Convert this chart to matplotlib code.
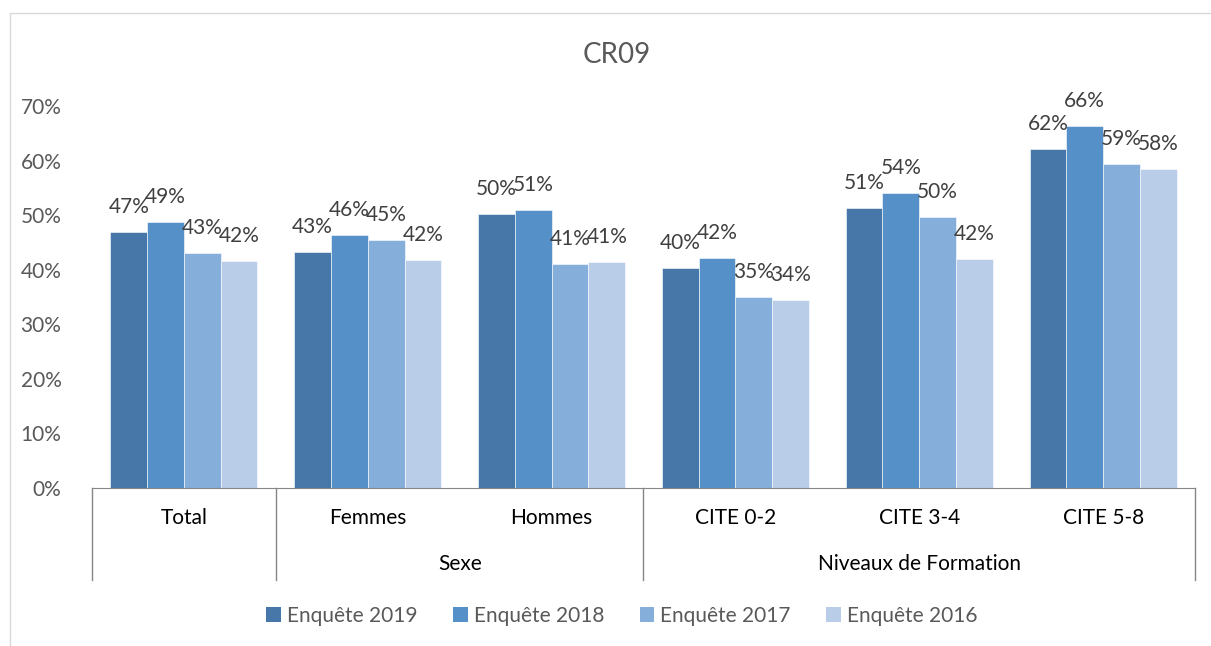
import matplotlib
matplotlib.use('Agg')
import matplotlib.pyplot as plt
from matplotlib.patches import Patch, Rectangle
import matplotlib.transforms as mtransforms
import numpy as np

plt.rcParams['font.family'] = ['Lato', 'DejaVu Sans']

# --- Données ---
categories = ['Total', 'Femmes', 'Hommes', 'CITE 0-2', 'CITE 3-4', 'CITE 5-8']
groups = ['', 'Sexe', 'Niveaux de Formation']
group_spans = [(0, 0), (1, 2), (3, 5)]
series = ['Enquête 2019', 'Enquête 2018', 'Enquête 2017', 'Enquête 2016']
v2019 = [0.469, 0.432, 0.502, 0.404, 0.514, 0.621]
v2018 = [0.488, 0.464, 0.509, 0.421, 0.540, 0.663]
v2017 = [0.430, 0.454, 0.410, 0.350, 0.496, 0.594]
v2016 = [0.416, 0.418, 0.414, 0.344, 0.420, 0.584]
colors = ['#4677A8', '#5591C8', '#86AEDB', '#B9CDE8']

values = [v2019, v2018, v2017, v2016]

fig = plt.figure(figsize=(12.11, 6.46), dpi=100)
ax = fig.add_axes([92/1211, 1-488/646, (1195-92)/1211, (488-106)/646])

# bordure du graphique
fig.patches.append(Rectangle((10/1211, -0.01), 1.02, 1-13/646+0.01, transform=fig.transFigure,
                             fill=False, edgecolor='#D9D9D9', lw=1))

x = np.arange(len(categories))
w = 0.2
for i, (vals, col, name) in enumerate(zip(values, colors, series)):
    pos = x + (i - 1.5) * w
    bars = ax.bar(pos, vals, width=w, color=col, edgecolor='white', linewidth=0.4, label=name)
    for b, v in zip(bars, vals):
        ax.annotate(f'{v*100:.0f}%', (b.get_x() + b.get_width()/2, v),
                    xytext=(0, 19), textcoords='offset pixels',
                    ha='center', va='baseline', fontsize=15, color='#404040')

ax.set_xlim(-0.5, len(categories) - 0.5)
ax.set_ylim(0, 0.7)
ax.set_yticks(np.arange(0, 0.71, 0.1))
ax.set_yticklabels([f'{t*100:.0f}%' for t in np.arange(0, 0.71, 0.1)])
ax.tick_params(axis='y', length=0, pad=22, labelsize=15, labelcolor='#595959')
ax.set_xticks([])
for s in ['top', 'right', 'left']:
    ax.spines[s].set_visible(False)
ax.spines['bottom'].set_color('#868686')

fig.text(617/1211, 1-55/646, 'CR09', fontsize=20, color='#595959', ha='center', va='center')

# axe des catégories à deux niveaux
trans = mtransforms.blended_transform_factory(ax.transData, ax.transAxes)
for i, c in enumerate(categories):
    ax.text(i, -30/382, c, transform=trans, ha='center', va='center', fontsize=15, color='black')
for g, (a, b) in zip(groups, group_spans):
    if g:
        ax.text((a + b) / 2, -76/382, g, transform=trans, ha='center', va='center',
                fontsize=15, color='black')
for d in [-0.5, 0.5, 2.5, 5.5]:
    ax.plot([d, d], [0, -92/382], transform=trans, color='#868686', lw=1, clip_on=False)

handles = [Patch(facecolor=c, label=s) for c, s in zip(colors, series)]
fig.legend(handles=handles, loc='center', bbox_to_anchor=(622/1211, 1-616/646), ncol=4,
           frameon=False, fontsize=15, labelcolor='#595959', handlelength=0.7,
           handleheight=0.7, handletextpad=0.3, columnspacing=1.7)

fig.savefig('out.png', dpi=100)
